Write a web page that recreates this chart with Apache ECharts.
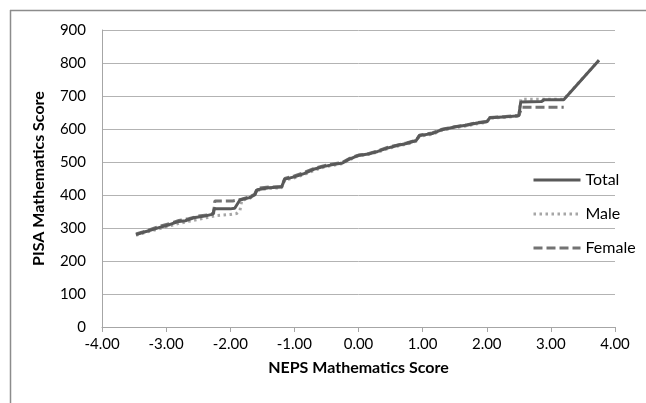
<!DOCTYPE html>
<html>
<head>
<meta charset="utf-8">
<script src="https://cdn.jsdelivr.net/npm/echarts@6/dist/echarts.min.js"></script>
<style>
html,body{margin:0;padding:0;background:#fff;}
#chart{width:646px;height:403px;}
</style>
</head>
<body>
<div id="chart"></div>
<script>
// NEPS score (x) and PISA score (y) per series
const totalX = [-3.47,-3.30,-3.10,-2.95,-2.80,-2.70,-2.55,-2.40,-2.27,-2.25,-2.00,-1.93,-1.85,-1.70,-1.62,-1.58,-1.40,-1.20,-1.15,-1.00,-0.85,-0.70,-0.55,-0.40,-0.25,-0.15,0.00,0.15,0.30,0.45,0.60,0.75,0.90,0.95,1.15,1.30,1.50,1.70,1.85,2.00,2.05,2.25,2.50,2.53,2.85,2.90,3.20,3.75];
const totalY = [280,290,302,310,320,322,332,336,342,358,358,360,385,392,400,416,422,424,448,455,465,478,486,492,497,508,520,524,532,542,550,556,565,580,586,598,606,612,618,622,634,636,640,682,683,689,689,808];

const maleX = [-3.47,-3.30,-3.10,-2.95,-2.80,-2.65,-2.50,-2.35,-2.20,-2.00,-1.90,-1.85,-1.82,-1.70,-1.62,-1.58,-1.40,-1.20,-1.15,-1.00,-0.85,-0.70,-0.55,-0.40,-0.25,-0.15,0.00,0.15,0.30,0.45,0.60,0.75,0.90,0.95,1.15,1.30,1.50,1.70,1.85,2.00,2.05,2.25,2.50,2.53,3.20,3.75];
const maleY = [278,288,298,306,314,320,326,332,338,341,344,352,384,390,398,414,420,422,446,452,462,474,484,490,495,506,519,523,530,540,548,554,563,578,584,596,604,610,616,620,633,635,639,690,690,808];

const femaleX = [-3.47,-3.30,-3.10,-2.95,-2.80,-2.65,-2.50,-2.35,-2.26,-2.24,-1.96,-1.85,-1.70,-1.62,-1.58,-1.40,-1.20,-1.15,-1.00,-0.85,-0.70,-0.55,-0.40,-0.25,-0.15,0.00,0.15,0.30,0.45,0.60,0.75,0.90,0.95,1.15,1.30,1.50,1.70,1.85,2.00,2.05,2.25,2.50,2.55,3.20];
const femaleY = [282,292,305,313,323,328,336,340,344,382,382,386,394,402,420,424,426,450,458,468,480,488,494,499,510,521,525,534,544,551,558,566,581,588,599,607,613,619,623,635,637,641,666,666];

const xTicks = [-4,-3,-2,-1,0,1,2,3,4];
const yTicks = [0,100,200,300,400,500,600,700,800,900];

const zip = (xs, ys) => xs.map((x, i) => [x, ys[i]]);
const FONT = 'Lato';

const chart = echarts.init(document.getElementById('chart'), null, {renderer: 'canvas'});
chart.setOption({
  animation: false,
  backgroundColor: '#fff',
  textStyle: {fontFamily: FONT},
  grid: {left: 102, right: 31, top: 30, bottom: 76},
  graphic: [
    {type: 'line', shape: {x1: 10, y1: 10.5, x2: 646, y2: 10.5}, style: {stroke: '#8c8c8c', lineWidth: 1.5}},
    {type: 'line', shape: {x1: 10.5, y1: 10, x2: 10.5, y2: 403}, style: {stroke: '#8c8c8c', lineWidth: 1.5}}
  ],
  legend: {
    orient: 'vertical',
    left: 527, top: 167,
    itemWidth: 47, itemHeight: 14, itemGap: 18,
    itemStyle: {opacity: 0},
    lineStyle: {width: 3},
    textStyle: {fontFamily: FONT, fontSize: 16, color: '#000'},
    data: ['Total', 'Male', 'Female']
  },
  xAxis: {
    type: 'value', min: xTicks[0], max: xTicks[xTicks.length - 1], interval: 1,
    name: 'NEPS Mathematics Score', nameLocation: 'middle', nameGap: 33,
    nameTextStyle: {fontFamily: FONT, fontSize: 16, fontWeight: 'bold', color: '#000'},
    axisLine: {show: true, onZero: false, lineStyle: {color: '#a6a6a6', width: 1}},
    axisTick: {show: true, length: 5, inside: false, lineStyle: {color: '#a6a6a6'}},
    axisLabel: {fontFamily: FONT, fontSize: 15, color: '#000', margin: 10, formatter: v => v.toFixed(2)},
    splitLine: {show: false}
  },
  yAxis: {
    type: 'value', min: yTicks[0], max: yTicks[yTicks.length - 1], interval: 100,
    name: 'PISA Mathematics Score', nameLocation: 'middle', nameGap: 55,
    nameTextStyle: {fontFamily: FONT, fontSize: 16, fontWeight: 'bold', color: '#000'},
    axisLine: {show: true, onZero: false, lineStyle: {color: '#a6a6a6', width: 1}},
    axisTick: {show: false},
    axisLabel: {fontFamily: FONT, fontSize: 15, color: '#000', margin: 16},
    splitLine: {show: true, lineStyle: {color: '#b3b3b3', width: 1}}
  },
  series: [
    {name: 'Female', type: 'line', data: zip(femaleX, femaleY), showSymbol: false, symbol: 'none',
     lineStyle: {color: '#737373', width: 3, type: [9, 4]}, itemStyle: {color: '#737373'}},
    {name: 'Male', type: 'line', data: zip(maleX, maleY), showSymbol: false, symbol: 'none',
     lineStyle: {color: '#a6a6a6', width: 3, type: [2.5, 3.5]}, itemStyle: {color: '#a6a6a6'}},
    {name: 'Total', type: 'line', data: zip(totalX, totalY), showSymbol: false, symbol: 'none',
     lineStyle: {color: '#595959', width: 3}, itemStyle: {color: '#595959'}}
  ]
});
</script>
</body>
</html>
